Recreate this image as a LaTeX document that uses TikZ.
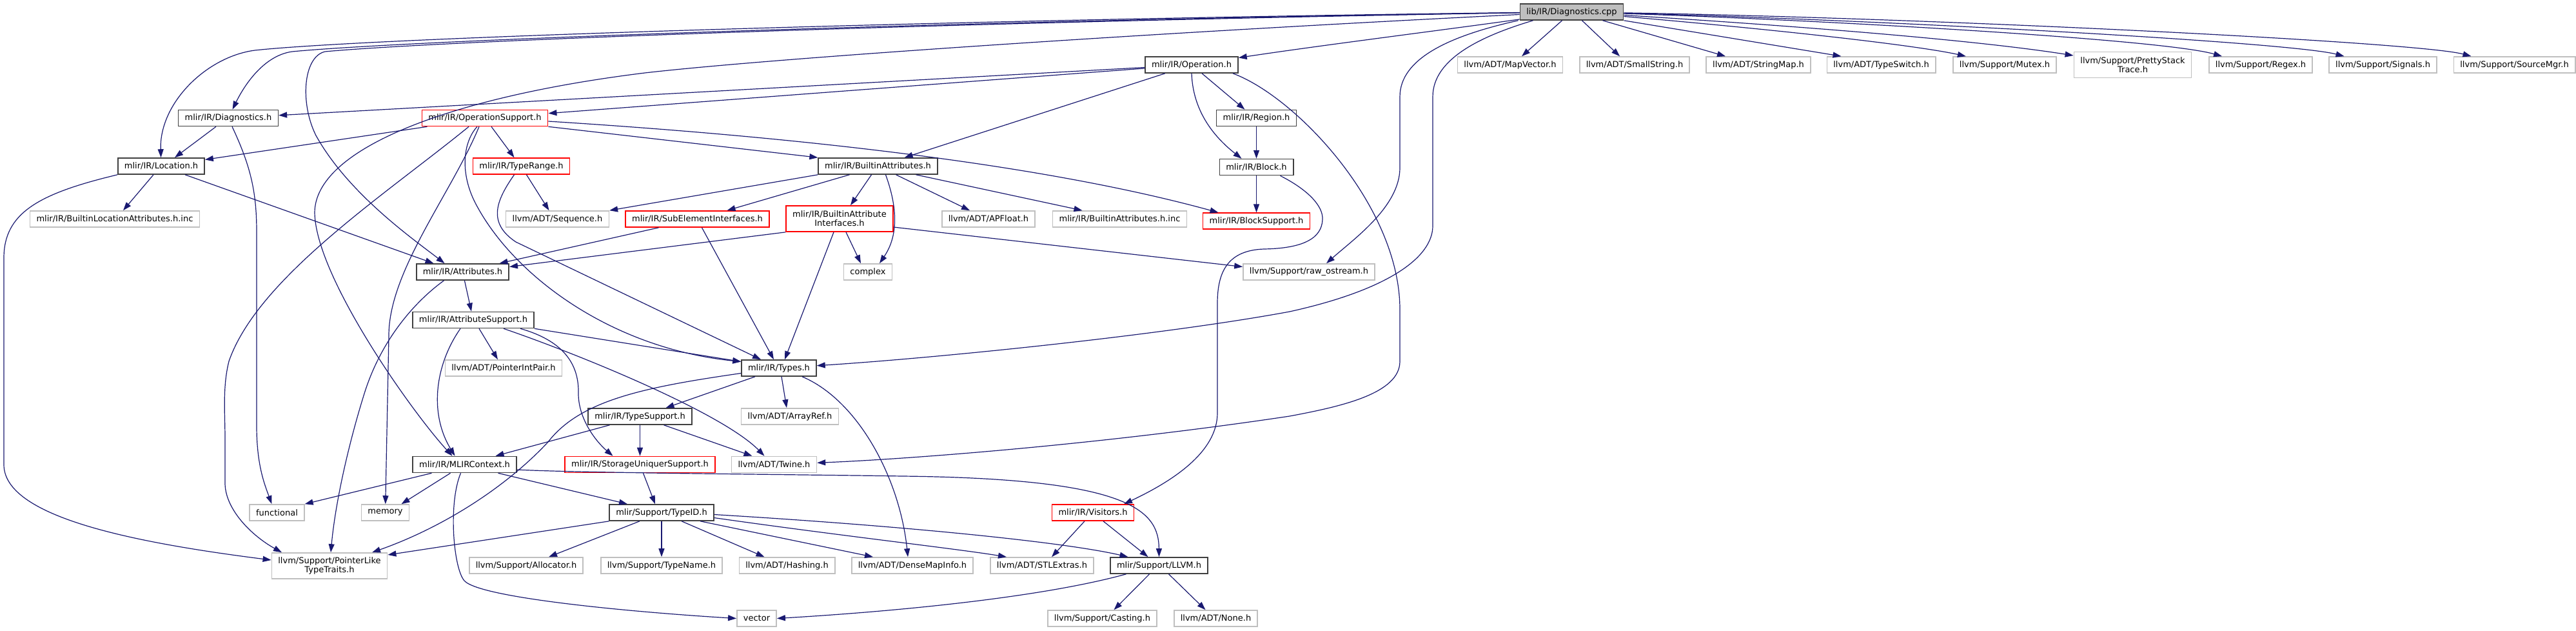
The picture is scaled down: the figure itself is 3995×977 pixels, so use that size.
\documentclass[tikz,border=0pt]{standalone}
\usepackage{fontspec}
\setmainfont{DejaVu Sans}
\usepackage{xcolor}
\usepackage{tikz}
\usetikzlibrary{positioning,arrows.meta}
\definecolor{midnightblue}{RGB}{25, 25, 112}
\definecolor{grey25}{RGB}{64, 64, 64}
\definecolor{grey75}{RGB}{191, 191, 191}
\definecolor{truncred}{RGB}{255, 0, 0}

\begin{document}
\begin{tikzpicture}[
    x=1pt, y=-1pt,
    box/.style={draw=grey25, line width=1.6pt, fill=white, inner xsep=10pt, inner ysep=3pt,
        minimum height=25pt, font=\fontsize{13}{14}\selectfont},
    extbox/.style={box, draw=grey75},
    redbox/.style={box, draw=truncred},
    rootbox/.style={box, fill=grey75},
    twoline/.style={align=center, minimum height=40pt},
    arrow/.style={-{Triangle[length=13pt, width=9pt]}, line width=1.2pt, draw=midnightblue}
]
\useasboundingbox (0,0) rectangle (3995,977);
\node[rootbox] (diagcpp) at (2437.5,18.5) {lib/IR/Diagnostics.cpp};
\node[box] (operation) at (1848,100.5) {mlir/IR/Operation.h};
\node[extbox] (mapvector) at (2342,100.5) {llvm/ADT/MapVector.h};
\node[extbox] (smallstring) at (2535,100.5) {llvm/ADT/SmallString.h};
\node[extbox] (stringmap) at (2727,100.5) {llvm/ADT/StringMap.h};
\node[extbox] (typeswitch) at (2917.5,100.5) {llvm/ADT/TypeSwitch.h};
\node[extbox] (mutex) at (3109,100.5) {llvm/Support/Mutex.h};
\node[extbox, twoline] (prettystack) at (3307.5,100.5) {llvm/Support/PrettyStack\\Trace.h};
\node[extbox] (regex) at (3506,100.5) {llvm/Support/Regex.h};
\node[extbox] (signals) at (3695.5,100.5) {llvm/Support/Signals.h};
\node[extbox] (sourcemgr) at (3899.5,100.5) {llvm/Support/SourceMgr.h};
\node[box] (diagh) at (354,183) {mlir/IR/Diagnostics.h};
\node[redbox] (opsupport) at (752,183) {mlir/IR/OperationSupport.h};
\node[box] (region) at (1948.5,183) {mlir/IR/Region.h};
\node[box] (location) at (250,257.5) {mlir/IR/Location.h};
\node[redbox] (typerange) at (808.5,257.5) {mlir/IR/TypeRange.h};
\node[box] (builtinattr) at (1361.5,257.5) {mlir/IR/BuiltinAttributes.h};
\node[box, below=49.5pt of region] (block) {mlir/IR/Block.h};
\node[extbox] (locinc) at (178,339.5) {mlir/IR/BuiltinLocationAttributes.h.inc};
\node[extbox] (sequence) at (864.5,339.5) {llvm/ADT/Sequence.h};
\node[redbox] (subelem) at (1081.5,339.5) {mlir/IR/SubElementInterfaces.h};
\node[redbox, twoline] (attrinterfaces) at (1302,339) {mlir/IR/BuiltinAttribute\\Interfaces.h};
\node[extbox] (apfloat) at (1533,339.5) {llvm/ADT/APFloat.h};
\node[extbox] (builtininc) at (1736.5,339.5) {mlir/IR/BuiltinAttributes.h.inc};
\node[redbox, below=57pt of block] (blocksupport) {mlir/IR/BlockSupport.h};
\node[box] (attributes) at (717.5,421.5) {mlir/IR/Attributes.h};
\node[extbox] (complex) at (1346,421.5) {complex};
\node[extbox] (rawostream) at (2030,421.5) {llvm/Support/raw\_ostream.h};
\node[box] (attrsupport) at (734,496) {mlir/IR/AttributeSupport.h};
\node[box] (types) at (1208,570.5) {mlir/IR/Types.h};
\node[extbox] (pointerintpair) at (781,570.5) {llvm/ADT/PointerIntPair.h};
\node[box] (typesupport) at (992.5,645.5) {mlir/IR/TypeSupport.h};
\node[extbox] (arrayref) at (1225,645.5) {llvm/ADT/ArrayRef.h};
\node[box] (mlircontext) at (720.5,720) {mlir/IR/MLIRContext.h};
\node[redbox] (storageuniquer) at (992.5,720) {mlir/IR/StorageUniquerSupport.h};
\node[extbox] (twine) at (1200.5,720) {llvm/ADT/Twine.h};
\node[extbox] (functional) at (429.5,794.5) {functional};
\node[extbox] (memory) at (597.5,794.5) {memory};
\node[box] (typeid) at (1026,794.5) {mlir/Support/TypeID.h};
\node[redbox] (visitors) at (1695,794.5) {mlir/IR/Visitors.h};
\node[extbox, twoline] (pointerlike) at (511,877) {llvm/Support/PointerLike\\TypeTraits.h};
\node[extbox] (allocator) at (816,876.5) {llvm/Support/Allocator.h};
\node[extbox] (typename) at (1026,876.5) {llvm/Support/TypeName.h};
\node[extbox] (hashing) at (1220.5,876.5) {llvm/ADT/Hashing.h};
\node[extbox] (densemapinfo) at (1415,876.5) {llvm/ADT/DenseMapInfo.h};
\node[extbox] (stlextras) at (1616,876.5) {llvm/ADT/STLExtras.h};
\node[box] (llvmh) at (1797.5,876.5) {mlir/Support/LLVM.h};
\node[extbox] (vector) at (1173.5,958.5) {vector};
\node[extbox] (casting) at (1709.5,958.5) {llvm/Support/Casting.h};
\node[extbox] (noneh) at (1885.5,958.5) {llvm/ADT/None.h};
\draw[arrow] (diagcpp) .. controls (1500,30) and (580,58) .. (395,78) .. controls (320,88) and (247,160) .. (location);
\draw[arrow] (diagcpp) .. controls (1500,32) and (640,62) .. (453,80) .. controls (410,86) and (380,130) .. (diagh);
\draw[arrow] (diagcpp) .. controls (1500,34) and (700,62) .. (504,80) .. controls (470,88) and (465,160) .. (490,210) .. controls (540,300) and (640,370) .. ([xshift=-28pt]attributes.north);
\draw[arrow] (diagcpp) .. controls (1800,50) and (1200,90) .. (1000,113) .. controls (700,150) and (488,230) .. (488,330) .. controls (490,430) and (640,640) .. ([xshift=-19pt]mlircontext.north);
\draw[arrow] (diagcpp) .. controls (2250,45) and (2050,70) .. (operation);
\draw[arrow] ([xshift=-83pt]diagcpp.south) .. controls (2250,55) and (2171,90) .. (2171,150) -- (2171,260) .. controls (2171,320) and (2100,370) .. ([xshift=27pt]rawostream.north);
\draw[arrow] ([xshift=-60pt]diagcpp.south) .. controls (2300,55) and (2222,90) .. (2222,150) -- (2222,350) .. controls (2222,400) and (2150,450) .. (2000,483) .. controls (1800,520) and (1450,555) .. (types);
\draw[arrow] ([xshift=-15pt]diagcpp.south) -- ([xshift=18pt]mapvector.north);
\draw[arrow] ([xshift=16pt]diagcpp.south) -- ([xshift=-23pt]smallstring.north);
\draw[arrow] ([xshift=48pt]diagcpp.south) -- ([xshift=-51pt]stringmap.north);
\draw[arrow] (diagcpp.south east) -- ([xshift=-62pt]typeswitch.north);
\draw[arrow] (diagcpp) .. controls (2800,50) and (2980,72) .. (mutex);
\draw[arrow] (diagcpp) .. controls (2750,38) and (3050,60) .. (prettystack);
\draw[arrow] (diagcpp) .. controls (2800,30) and (3350,60) .. ([xshift=-60pt]regex.north);
\draw[arrow] (diagcpp) .. controls (2900,30) and (3550,65) .. ([xshift=-60pt]signals.north);
\draw[arrow] (diagcpp) .. controls (3000,28) and (3750,65) .. ([xshift=-67pt]sourcemgr.north);
\draw[arrow] (operation) -- (diagh);
\draw[arrow] (operation) -- (opsupport);
\draw[arrow] (operation) -- (builtinattr);
\draw[arrow] ([xshift=16pt]operation.south) -- ([xshift=-18pt]region.north);
\draw[arrow] (operation.south) .. controls (1850,170) and (1880,210) .. ([xshift=-23pt]block.north);
\draw[arrow] ([xshift=64pt]operation.south) .. controls (2010,150) and (2171,320) .. (2171,480) -- (2171,560) .. controls (2171,610) and (2080,630) .. (2000,645) .. controls (1700,690) and (1400,712) .. (twine);
\draw[arrow] (region) -- (block);
\draw[arrow] (block) -- (blocksupport);
\draw[arrow] ([xshift=37pt]block.south) .. controls (2030,295) and (2052,320) .. (2051,340) .. controls (2050,370) and (2020,385) .. (1960,386) .. controls (1905,388) and (1888,420) .. (1888,470) -- (1888,640) .. controls (1888,700) and (1820,745) .. ([xshift=48pt]visitors.north);
\draw[arrow] (opsupport) -- (location);
\draw[arrow] ([xshift=10pt]opsupport.south) -- ([xshift=-11pt]typerange.north);
\draw[arrow] (opsupport.south east) -- (builtinattr.north west);
\draw[arrow] ([yshift=-5pt]opsupport.east) .. controls (1200,210) and (1600,250) .. ([xshift=-59pt]blocksupport.north);
\draw[arrow] ([xshift=-25pt]opsupport.south) .. controls (600,300) and (400,430) .. (355,560) .. controls (345,600) and (349,640) .. (349,680) -- (349,750) .. controls (350,790) and (390,830) .. ([xshift=-74pt]pointerlike.north);
\draw[arrow] ([xshift=-9pt]opsupport.south) .. controls (700,300) and (603,420) .. (603,520) -- (memory);
\draw[arrow] ([xshift=-12pt]opsupport.south) .. controls (718,220) and (712,270) .. (740,320) .. controls (800,430) and (950,540) .. ([yshift=10pt]types.west);
\draw[arrow] ([xshift=8pt]typerange.south) -- ([xshift=-13pt]sequence.north);
\draw[arrow] ([xshift=-11pt]typerange.south) .. controls (770,310) and (755,345) .. (800,375) -- ([xshift=-28pt]types.north);
\draw[arrow] (builtinattr.south west) -- (sequence.north east);
\draw[arrow] ([xshift=-44pt]builtinattr.south) -- ([xshift=46pt]subelem.north);
\draw[arrow] ([xshift=-10pt]builtinattr.south) -- ([xshift=17pt]attrinterfaces.north);
\draw[arrow] ([xshift=12pt]builtinattr.south) .. controls (1395,330) and (1390,370) .. ([xshift=18pt]complex.north);
\draw[arrow] ([xshift=28pt]builtinattr.south) -- ([xshift=-29pt]apfloat.north);
\draw[arrow] ([xshift=59pt]builtinattr.south) -- ([xshift=-58pt]builtininc.north);
\draw[arrow] ([xshift=-60pt]subelem.south) -- ([xshift=57pt]attributes.north);
\draw[arrow] ([xshift=7pt]subelem.south) -- ([xshift=-8pt]types.north);
\draw[arrow] (attrinterfaces.south west) -- ([yshift=8pt]attributes.east);
\draw[arrow] ([xshift=-9pt]attrinterfaces.south) -- ([xshift=9pt]types.north);
\draw[arrow] ([xshift=10pt]attrinterfaces.south) -- ([xshift=-11pt]complex.north);
\draw[arrow] ([yshift=-13pt]attrinterfaces.east) -- ([yshift=8pt]rawostream.west);
\draw[arrow] ([xshift=-12pt]location.south) -- ([xshift=13pt]locinc.north);
\draw[arrow] ([xshift=37pt]location.south) -- ([xshift=-45pt]attributes.north);
\draw[arrow] (location.south west) .. controls (60,300) and (6,330) .. (6,400) -- (6,720) .. controls (6,800) and (200,840) .. ([yshift=9pt]pointerlike.west);
\draw[arrow] ([xshift=-19pt]diagh.south) -- ([xshift=21pt]location.north);
\draw[arrow] ([xshift=6pt]diagh.south) .. controls (390,260) and (398,300) .. (398,360) -- (398,660) .. controls (398,720) and (410,750) .. ([xshift=-8pt]functional.north);
\draw[arrow] (attributes) -- (attrsupport);
\draw[arrow] ([xshift=-29pt]attributes.south) .. controls (640,470) and (590,530) .. (565,610) .. controls (540,690) and (520,780) .. ([xshift=2pt]pointerlike.north);
\draw[arrow] ([xshift=9pt]attrsupport.south) -- ([xshift=-9pt]pointerintpair.north);
\draw[arrow] ([xshift=-20pt]attrsupport.south) .. controls (675,565) and (665,640) .. ([xshift=-15pt]mlircontext.north);
\draw[arrow] ([xshift=73pt]attrsupport.south) .. controls (880,530) and (898,570) .. (897,610) .. controls (897,650) and (925,685) .. ([xshift=-42pt]storageuniquer.north);
\draw[arrow] (attrsupport.south east) -- ([yshift=10pt]types.west);
\draw[arrow] ([xshift=47pt]attrsupport.south) .. controls (900,550) and (1120,640) .. ([xshift=-15pt]twine.north);
\draw[arrow] ([xshift=-37pt]types.south) -- ([xshift=40pt]typesupport.north);
\draw[arrow] ([xshift=4pt]types.south) -- ([xshift=-5pt]arrayref.north);
\draw[arrow] ([xshift=36pt]types.south) .. controls (1330,620) and (1395,740) .. ([xshift=-7pt]densemapinfo.north);
\draw[arrow] ([yshift=-8pt]types.west) .. controls (1000,600) and (900,620) .. (850,685) .. controls (780,760) and (680,820) .. ([xshift=66pt]pointerlike.north);
\draw[arrow] ([xshift=-47pt]typesupport.south) -- ([xshift=48pt]mlircontext.north);
\draw[arrow] (typesupport) -- (storageuniquer);
\draw[arrow] ([xshift=37pt]typesupport.south) -- ([xshift=-34pt]twine.north);
\draw[arrow] ([xshift=-51pt]mlircontext.south) -- (functional.north east);
\draw[arrow] ([xshift=-22pt]mlircontext.south) -- ([xshift=25pt]memory.north);
\draw[arrow] ([xshift=52pt]mlircontext.south) -- ([xshift=-53pt]typeid.north);
\draw[arrow] ([xshift=-6pt]mlircontext.south) .. controls (695,780) and (703,880) .. (720,900) .. controls (745,928) and (1000,950) .. (vector.west);
\draw[arrow] ([yshift=-8pt]mlircontext.east) .. controls (900,733) and (1200,735) .. (1400,738) .. controls (1750,742) and (1797,790) .. (llvmh.north);
\draw[arrow] ([xshift=5pt]storageuniquer.south) -- ([xshift=-10pt]typeid.north);
\draw[arrow] (typeid.south west) -- ([yshift=17pt]pointerlike.east);
\draw[arrow] ([xshift=-34pt]typeid.south) -- ([xshift=35pt]allocator.north);
\draw[arrow] (typeid) -- (typename);
\draw[arrow] ([xshift=31pt]typeid.south) -- ([xshift=-35pt]hashing.north);
\draw[arrow] ([xshift=60pt]typeid.south) -- ([xshift=-61pt]densemapinfo.north);
\draw[arrow] ([yshift=-8pt]typeid.east) .. controls (1300,830) and (1480,850) .. ([xshift=-55pt]stlextras.north);
\draw[arrow] ([yshift=-3pt]typeid.east) .. controls (1400,815) and (1650,840) .. ([xshift=-48pt]llvmh.north);
\draw[arrow] ([xshift=-13pt]visitors.south) -- ([xshift=15pt]stlextras.north);
\draw[arrow] ([xshift=16pt]visitors.south) -- ([xshift=-17pt]llvmh.north);
\draw[arrow] ([xshift=-51pt]llvmh.south) .. controls (1600,930) and (1350,950) .. (vector.east);
\draw[arrow] ([xshift=-15pt]llvmh.south) -- ([xshift=18pt]casting.north);
\draw[arrow] ([xshift=15pt]llvmh.south) -- ([xshift=-16pt]noneh.north);
\end{tikzpicture}
\end{document}
